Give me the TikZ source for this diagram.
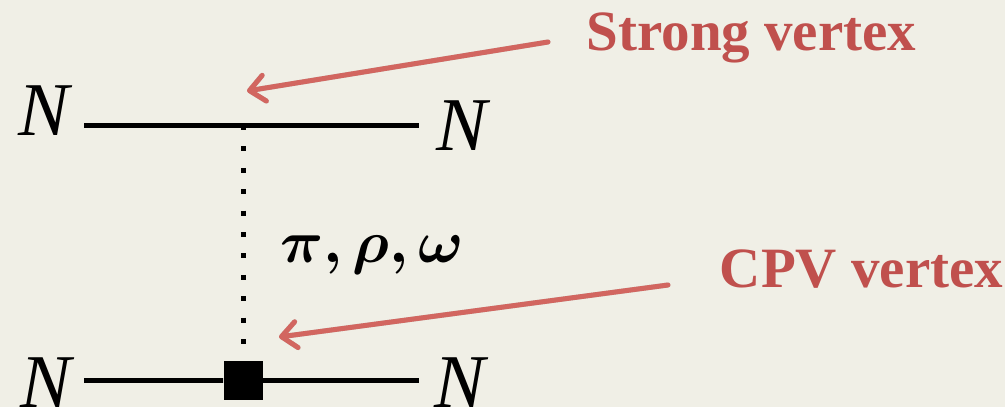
\RequirePackage{fix-cm}
\documentclass[tikz,border=0pt]{standalone}
\usepackage{bm}
\usepackage{fontspec}
\setmainfont{Liberation Serif}
\usetikzlibrary{arrows.meta}
\definecolor{bg}{RGB}{240,239,230}
\definecolor{lbl}{RGB}{192,80,77}
\definecolor{arr}{RGB}{210,102,96}
\begin{document}
\begin{tikzpicture}[x=1pt,y=-1pt,
  nlab/.style={font=\fontsize{76}{80}\selectfont\itshape, inner sep=0pt, anchor=base},
  vlab/.style={font=\fontsize{57}{60}\selectfont\bfseries, text=lbl, inner sep=0pt, anchor=base},
  mlab/.style={font=\fontsize{60}{62}\selectfont, inner sep=0pt, anchor=base},
  fline/.style={line width=5pt, draw=black},
  exch/.style={line width=5pt, draw=black, dash pattern=on 5pt off 16.4pt},
  vbox/.style={fill=black, minimum size=39pt, inner sep=0pt},
  pointer/.style={line width=5pt, draw=arr, line cap=round,
    -{Straight Barb[length=15pt,width=26pt,round]}},
  pshadow/.style={line width=5pt, draw=black!70, opacity=0.25, line cap=round,
    -{Straight Barb[length=15pt,width=26pt,round]}, xshift=1.5pt, yshift=-3pt},
  lshadow/.style={line width=5pt, draw=black!70, opacity=0.18, xshift=1.5pt, yshift=-2.5pt}
]
\useasboundingbox (0,0) rectangle (1005,407);
\fill[bg] (0,0) rectangle (1005,407);

% external legs
\coordinate (tl) at (84,125);
\coordinate (tr) at (419,125);
\coordinate (sv) at (243,125);
\coordinate (bl) at (84,380);
\coordinate (br) at (419,380);
\node[vbox] (cpv) at (243,380) {};

\draw[lshadow] (tl) -- (tr);
\draw[lshadow] (bl) -- (br);
\draw[fline] (tl) -- (tr);
\draw[fline] (bl) -- (cpv.west);
\draw[fline] (cpv.east) -- (br);
\draw[exch] (sv) -- (cpv.north);
\node[vbox] at (cpv) {};

% labels
\node[nlab] (nTL) at (44,135) {N};
\node[nlab] (nTR) at (462,150) {N};
\node[nlab] (nBL) at (46,407) {N};
\node[nlab] (nBR) at (460,407) {N};
\node[mlab] (mes) at (372.5,262) {$\bm{\pi, \rho, \omega}$};

\node[vlab] (strong) at (751.5,50) {Strong vertex};
\node[vlab] (cpvl) at (861.5,287) {CPV vertex};

% pointers
\coordinate (a1s) at (548,42);
\coordinate (a1e) at (247,91);
\coordinate (a2s) at (668,285);
\coordinate (a2e) at (279,337);
\draw[pshadow] (a1s) -- (a1e);
\draw[pshadow] (a2s) -- (a2e);
\draw[pointer] (a1s) -- (a1e);
\draw[pointer] (a2s) -- (a2e);
\end{tikzpicture}
\end{document}
